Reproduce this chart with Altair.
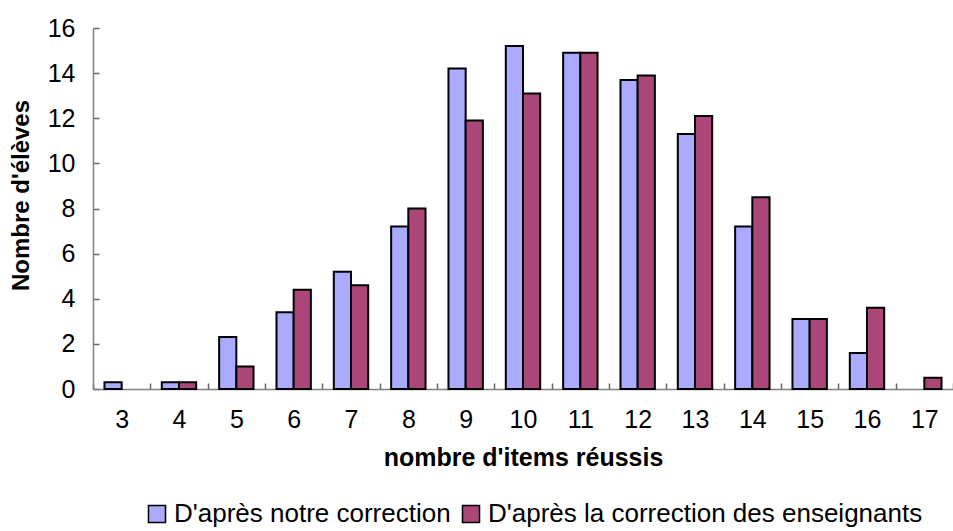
import altair as alt
import pandas as pd

# Number of items passed (x categories)
items = [3, 4, 5, 6, 7, 8, 9, 10, 11, 12, 13, 14, 15, 16, 17]

# Pupil counts per number of items passed, for each marking
notre_correction = [0.3, 0.3, 2.3, 3.4, 5.2, 7.2, 14.2, 15.2, 14.9, 13.7, 11.3, 7.2, 3.1, 1.6, 0.0]
correction_enseignants = [0.0, 0.3, 1.0, 4.4, 4.6, 8.0, 11.9, 13.1, 14.9, 13.9, 12.1, 8.5, 3.1, 3.6, 0.5]

series_names = ["D'après notre correction", "D'après la correction des enseignants"]
series_colors = ["#AAAAFF", "#AA4778"]

rows = []
for name, values in zip(series_names, [notre_correction, correction_enseignants]):
    for n, v in zip(items, values):
        rows.append({"n": n, "serie": name, "eleves": v})
df = pd.DataFrame(rows)

FONT = "Liberation Sans"
Y_TICKS = list(range(0, 17, 2))
W, H = 860, 361
TICK = 6
TICK_COLOR = "#666666"

# Inward tick marks are drawn as grid lines cut down to a short dash next to the axis:
# x grid lines run from the top of the plot down to the axis, y grid lines run rightwards.
x_tick_dash = [0, H - TICK, TICK, 2000]
y_tick_dash = [TICK, 2000]

chart = alt.Chart(df).mark_bar(stroke="black", strokeWidth=2, strokeJoin="miter").encode(
    x=alt.X("n:O", scale=alt.Scale(paddingInner=0, paddingOuter=0), sort=items,
            axis=alt.Axis(title="nombre d'items réussis", orient="bottom", labelAngle=0,
                          ticks=False, tickBand="extent",
                          grid=True, gridDash=x_tick_dash, gridColor=TICK_COLOR, gridWidth=1.5,
                          gridOpacity=1, gridCap="butt",
                          domain=True, domainColor="#808080", domainWidth=1.5,
                          labelFont=FONT, labelFontSize=25, labelColor="black", labelPadding=18,
                          titleFont=FONT, titleFontSize=25, titleFontWeight="bold",
                          titleColor="black", titlePadding=13)),
    # the pair of bars fills the middle 60 % of each class
    xOffset=alt.XOffset("serie:N", sort=series_names,
                        scale=alt.Scale(paddingInner=0, paddingOuter=0.667)),
    y=alt.Y("eleves:Q", scale=alt.Scale(domain=[0, 16], nice=False),
            axis=alt.Axis(title="Nombre d'élèves", orient="left", values=Y_TICKS,
                          ticks=False,
                          grid=True, gridDash=y_tick_dash, gridColor=TICK_COLOR, gridWidth=1.5,
                          gridOpacity=1, gridCap="butt",
                          domain=True, domainColor="#808080", domainWidth=1.5,
                          labelFont=FONT, labelFontSize=25, labelColor="black", labelPadding=18,
                          titleFont=FONT, titleFontSize=24, titleFontWeight="bold",
                          titleColor="black", titlePadding=14, titleY=167, titleAlign="center")),
    color=alt.Color("serie:N", sort=series_names,
                    scale=alt.Scale(domain=series_names, range=series_colors),
                    legend=alt.Legend(title=None, orient="none", direction="horizontal",
                                      legendX=51, legendY=473,
                                      symbolType="square", symbolSize=290,
                                      symbolStrokeColor="black", symbolStrokeWidth=1.5,
                                      symbolOpacity=1, labelLimit=800,
                                      labelFont=FONT, labelFontSize=26, labelColor="black",
                                      labelOffset=4, columnPadding=7, symbolOffset=0)),
    # an empty class draws no bar at all
    opacity=alt.condition(alt.datum.eleves > 0, alt.value(1), alt.value(0)),
).properties(
    width=W,
    height=H,
    autosize=alt.AutoSizeParams(type="none"),
    padding={"left": 93, "top": 28, "right": 0, "bottom": 142},
    background="white",
).configure_view(stroke=None)

chart.save("out.html", embed_options={"renderer": "svg", "actions": False})
